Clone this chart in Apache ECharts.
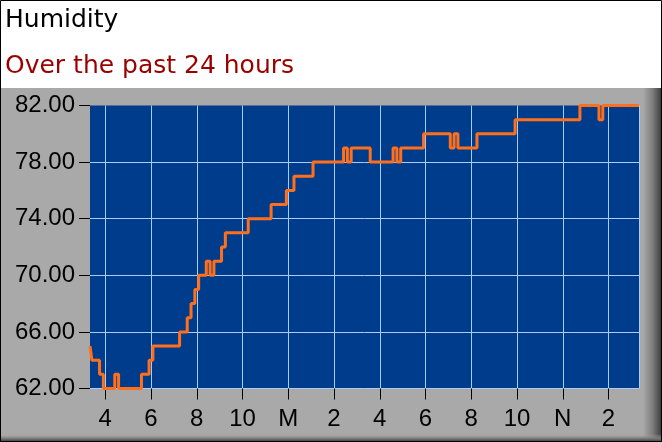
<!DOCTYPE html>
<html>
<head>
<meta charset="utf-8">
<script src="https://cdn.jsdelivr.net/npm/echarts@6/dist/echarts.min.js"></script>
<style>
html,body{margin:0;padding:0;background:#fff;}
#chart{width:662px;height:442px;}
</style>
</head>
<body>
<div id="chart"></div>
<script>
// Humidity readings every 10 minutes, starting 15:20, over 24 hours
var startMinutes = 15 * 60 + 20;
var stepMinutes = 10;
var humidity = [
  65, 64, 64, 63, 62, 62, 62, 63, 62, 62,
  62, 62, 62, 62, 63, 63, 64, 65, 65, 65,
  65, 65, 65, 65, 66, 66, 67, 68, 69, 70,
  70, 71, 70, 71, 71, 72, 73, 73, 73, 73,
  73, 73, 74, 74, 74, 74, 74, 74, 75, 75,
  75, 75, 76, 76, 77, 77, 77, 77, 77, 78,
  78, 78, 78, 78, 78, 78, 78, 79, 78, 79,
  79, 79, 79, 79, 78, 78, 78, 78, 78, 78,
  79, 78, 79, 79, 79, 79, 79, 79, 80, 80,
  80, 80, 80, 80, 80, 79, 80, 79, 79, 79,
  79, 79, 80, 80, 80, 80, 80, 80, 80, 80,
  80, 80, 81, 81, 81, 81, 81, 81, 81, 81,
  81, 81, 81, 81, 81, 81, 81, 81, 81, 82,
  82, 82, 82, 82, 81, 82, 82, 82, 82, 82,
  82, 82, 82, 82, 82
];
var tickTimes = ['16:00','18:00','20:00','22:00','00:00','02:00','04:00','06:00','08:00','10:00','12:00','14:00'];
var tickLabels = ['4','6','8','10','M','2','4','6','8','10','N','2'];
var yTickValues = [62, 66, 70, 74, 78, 82];

function pad(n){ return (n < 10 ? '0' : '') + n; }
var categories = humidity.map(function (_, i) {
  var m = (startMinutes + i * stepMinutes) % 1440;
  return pad(Math.floor(m / 60)) + ':' + pad(m % 60);
});
var lastIndex = categories.length - 1;
function isTick(i, v) { return tickTimes.indexOf(v) >= 0; }

var chart = echarts.init(document.getElementById('chart'), null, {renderer: 'canvas'});
chart.setOption({
  backgroundColor: '#ffffff',
  animation: false,
  title: [
    {text: 'Humidity', left: 5, top: 8, padding: 0,
     textStyle: {fontFamily: 'DejaVu Sans', fontSize: 25, fontWeight: 'normal', color: '#000000'}},
    {text: 'Over the past 24 hours', left: 5, top: 54, padding: 0,
     textStyle: {fontFamily: 'DejaVu Sans', fontSize: 25, fontWeight: 'normal', color: '#9a0000'}}
  ],
  graphic: [
    {type: 'rect', z: -10, silent: true, shape: {x: 0, y: 88, width: 662, height: 354},
     style: {fill: '#a9a9a9'}},
    {type: 'rect', z: -9, silent: true, shape: {x: 643, y: 88, width: 19, height: 354},
     style: {fill: new echarts.graphic.LinearGradient(0, 0, 1, 0, [
       {offset: 0, color: 'rgba(169,169,169,1)'},
       {offset: 0.5, color: 'rgba(125,125,125,1)'},
       {offset: 1, color: 'rgba(55,55,55,1)'}])}},
    {type: 'rect', z: -9, silent: true, shape: {x: 0, y: 434, width: 662, height: 8},
     style: {fill: new echarts.graphic.LinearGradient(0, 0, 0, 1, [
       {offset: 0, color: 'rgba(169,169,169,0)'},
       {offset: 0.6, color: 'rgba(115,115,115,1)'},
       {offset: 1, color: 'rgba(55,55,55,1)'}])}},
    {type: 'rect', z: 50, silent: true, shape: {x: 0.5, y: 0.5, width: 661, height: 441},
     style: {fill: null, stroke: '#000000', lineWidth: 1}}
  ],
  grid: {
    left: 90, top: 105.5, width: 549, height: 283,
    show: true, backgroundColor: '#003c8c', borderWidth: 0,
    containLabel: false
  },
  xAxis: {
    type: 'category',
    data: categories,
    boundaryGap: false,
    axisLine: {show: false},
    axisTick: {show: true, interval: isTick, length: 11, lineStyle: {color: '#000000', width: 1}},
    axisLabel: {
      interval: isTick, margin: 19,
      fontFamily: 'Liberation Sans', fontSize: 24, color: '#000000',
      formatter: function (v) { var j = tickTimes.indexOf(v); return j >= 0 ? tickLabels[j] : ''; }
    },
    splitLine: {show: true, interval: function (i, v) { return isTick(i, v) || i === lastIndex; },
                lineStyle: {color: '#a8ccf8', width: 1}}
  },
  yAxis: {
    type: 'value',
    min: yTickValues[0], max: yTickValues[yTickValues.length - 1], interval: 4,
    axisLine: {show: false},
    axisTick: {show: true, length: 11, lineStyle: {color: '#000000', width: 1}},
    axisLabel: {
      margin: 15, fontFamily: 'Liberation Sans', fontSize: 24, color: '#000000',
      formatter: function (v) { return v.toFixed(2); }
    },
    splitLine: {show: true, showMinLine: true, showMaxLine: false, lineStyle: {color: '#a8ccf8', width: 1}}
  },
  series: [{
    type: 'line',
    data: humidity,
    step: 'middle',
    showSymbol: false,
    clip: false,
    lineStyle: {color: '#ff6f1c', width: 3},
    itemStyle: {color: '#ff6f1c'}
  }]
});
</script>
</body>
</html>
